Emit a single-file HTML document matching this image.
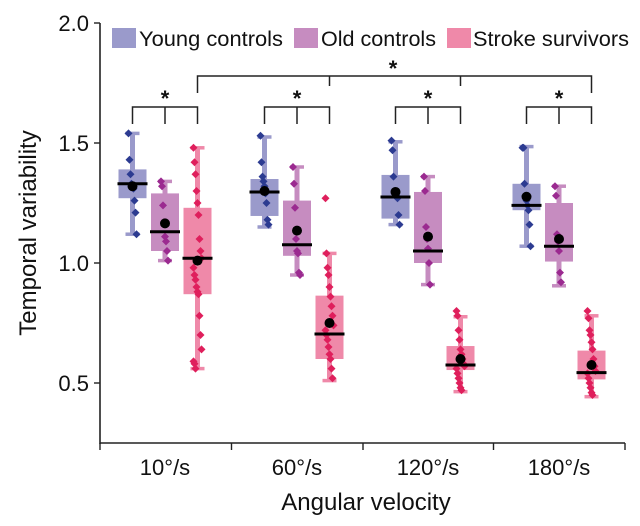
<!DOCTYPE html>
<html><head><meta charset="utf-8"><style>
html,body{margin:0;padding:0;background:#fff;}
svg{display:block;font-family:"Liberation Sans",Arial,sans-serif;}
</style></head><body>
<svg id="chart" width="640" height="526" viewBox="0 0 640 526"></svg>
<script>
const categories = ["10°/s","60°/s","120°/s","180°/s"];
const groups = ["Young controls","Old controls","Stroke survivors"];
const yTicks = [0.5,1.0,1.5,2.0];
const yTickLabels = ["0.5","1.0","1.5","2.0"];
// [whiskerLow, q1, median, q3, whiskerHigh, mean] per category per group
const youngStats = [[1.12,1.27,1.33,1.39,1.54,1.32],[1.15,1.196,1.296,1.35,1.525,1.30],[1.16,1.185,1.275,1.367,1.505,1.296],[1.07,1.22,1.24,1.33,1.485,1.276]];
const oldStats = [[1.01,1.05,1.13,1.29,1.34,1.165],[0.95,1.03,1.076,1.26,1.40,1.135],[0.91,1.0,1.05,1.296,1.36,1.11],[0.905,1.006,1.07,1.25,1.32,1.10]];
const strokeStats = [[0.56,0.87,1.02,1.23,1.48,1.01],[0.51,0.60,0.704,0.864,1.04,0.75],[0.464,0.554,0.575,0.654,0.776,0.60],[0.443,0.515,0.543,0.635,0.78,0.575]];
const youngPoints = [[1.54,1.43,1.37,1.33,1.32,1.31,1.26,1.21,1.12],[1.53,1.42,1.36,1.34,1.32,1.29,1.25,1.18,1.16],[1.51,1.47,1.36,1.30,1.29,1.28,1.27,1.20,1.16],[1.48,1.48,1.33,1.28,1.26,1.24,1.22,1.16,1.07]];
const oldPoints = [[1.34,1.32,1.24,1.17,1.11,1.09,1.05,1.01],[1.40,1.33,1.23,1.10,1.05,1.04,0.96,0.95],[1.36,1.30,1.15,1.10,1.06,1.00,0.91],[1.32,1.28,1.12,1.09,1.05,0.96,0.92]];
const strokePoints = [[1.48,1.42,1.37,1.30,1.25,1.20,1.10,1.05,1.02,0.98,0.95,0.93,0.90,0.88,0.87,0.78,0.70,0.64,0.59,0.58,0.56],[1.27,1.04,0.98,0.95,0.90,0.86,0.82,0.78,0.74,0.72,0.70,0.68,0.65,0.62,0.60,0.56,0.52],[0.80,0.78,0.72,0.68,0.64,0.62,0.60,0.58,0.57,0.56,0.54,0.52,0.50,0.48,0.47],[0.80,0.77,0.72,0.70,0.67,0.64,0.60,0.57,0.55,0.54,0.52,0.50,0.48,0.46,0.45]];

const NS="http://www.w3.org/2000/svg";
const svg=document.getElementById('chart');
const X0=100,X1=625,Y_AX=443;
function yS(v){return 23+(2.0-v)*240;}
const catCenters=[165,297,428,559];
function boxX(ci,gi){return catCenters[ci]+(gi-1)*32.5;}
function el(tag,attrs,parent){const e=document.createElementNS(NS,tag);for(const k in attrs)e.setAttribute(k,attrs[k]);(parent||svg).appendChild(e);return e;}

const boxFill=["#9a9acb","#c68cc0","#ef89a9"];
const dotFill=["#2c3b91","#9b2a90","#df1f5c"];
const statsAll=[youngStats,oldStats,strokeStats];
const ptsAll=[youngPoints,oldPoints,strokePoints];

const ax=el('g',{});

el('line',{x1:X0,y1:23,x2:X0,y2:Y_AX+1,stroke:'#222','stroke-width':1.6},ax);
el('line',{x1:X0,y1:Y_AX,x2:X1,y2:Y_AX,stroke:'#222','stroke-width':1.6},ax);
yTicks.forEach((v,i)=>{
  el('line',{x1:X0-6,y1:yS(v),x2:X0,y2:yS(v),stroke:'#222','stroke-width':1.4},ax);
  const t=el('text',{x:89,y:yS(v)+8,'text-anchor':'end','font-size':22,fill:'#111'},ax);
  
  t.textContent=yTickLabels[i];
});
[X0,231.5,363,493.5,X1].forEach(x=>el('line',{x1:x,y1:Y_AX,x2:x,y2:Y_AX+7,stroke:'#222','stroke-width':1.4},ax));
categories.forEach((c,i)=>{
  const t=el('text',{x:catCenters[i],y:475,'text-anchor':'middle','font-size':22,fill:'#111'},ax);
  
  t.textContent=c;
});
const xt=el('text',{x:366,y:510,'text-anchor':'middle','font-size':24,fill:'#111'},ax);

xt.textContent='Angular velocity';
const yt=el('text',{x:0,y:0,'text-anchor':'middle','font-size':24,fill:'#111',transform:'translate(36,233) rotate(-90)'},ax);

yt.textContent='Temporal variability';

for(let gi=0;gi<3;gi++){
  for(let ci=0;ci<4;ci++){
    const s=statsAll[gi][ci];const cx=boxX(ci,gi);
    const g=el('g',{});
    
    
    el('line',{x1:cx,y1:yS(s[0]),x2:cx,y2:yS(s[4]),stroke:boxFill[gi],'stroke-width':5},g);
    el('line',{x1:cx-7,y1:yS(s[0]),x2:cx+7,y2:yS(s[0]),stroke:boxFill[gi],'stroke-width':3.5},g);
    el('line',{x1:cx-7,y1:yS(s[4]),x2:cx+7,y2:yS(s[4]),stroke:boxFill[gi],'stroke-width':3.5},g);
    el('rect',{x:cx-14,y:yS(s[3]),width:28,height:yS(s[1])-yS(s[3]),fill:boxFill[gi]},g);
    ptsAll[gi][ci].forEach((v,k)=>{
      const dx=((k*37)%9)-4;const py=yS(v);const px=cx+dx;
      const d=el('path',{d:`M${px} ${py-4}L${px+4} ${py}L${px} ${py+4}L${px-4} ${py}Z`,fill:dotFill[gi]},g);
      
    });
    el('line',{x1:cx-15,y1:yS(s[2]),x2:cx+15,y2:yS(s[2]),stroke:'#000','stroke-width':3},g);
    const m=el('circle',{cx:cx,cy:yS(s[5]),r:5,fill:'#000'},g);
    
  }
}

const br=el('g',{stroke:'#222','stroke-width':1.5,fill:'none'});

for(let ci=0;ci<4;ci++){
  const a=boxX(ci,0),b=boxX(ci,1),c=boxX(ci,2);
  el('path',{d:`M${a} 124V107H${c}V124M${b} 107V124`},br);
  const st=el('text',{x:b,y:106,'text-anchor':'middle','font-size':22,'font-weight':'bold',fill:'#111',stroke:'none'},br);
  st.textContent='*';
}
const s0=boxX(0,2),s1=boxX(1,2),s2=boxX(2,2),s3=boxX(3,2);
el('path',{d:`M${s0} 93V76H${s3}V93M${s1} 76V86M${s2} 76V86`},br);
const bs=el('text',{x:393,y:76,'text-anchor':'middle','font-size':22,'font-weight':'bold',fill:'#111',stroke:'none'},br);
bs.textContent='*';

const lg=el('g',{});

const legX=[112,294,447],legT=[139,321,473],legW=[144,115,156];
groups.forEach((n,i)=>{
  el('rect',{x:legX[i],y:28,width:24,height:20,fill:boxFill[i]},lg);
  const t=el('text',{x:legT[i],y:46,'font-size':21,fill:'#111',textLength:legW[i],lengthAdjust:'spacingAndGlyphs'},lg);
  
  t.textContent=n;
});
</script>
</body></html>
